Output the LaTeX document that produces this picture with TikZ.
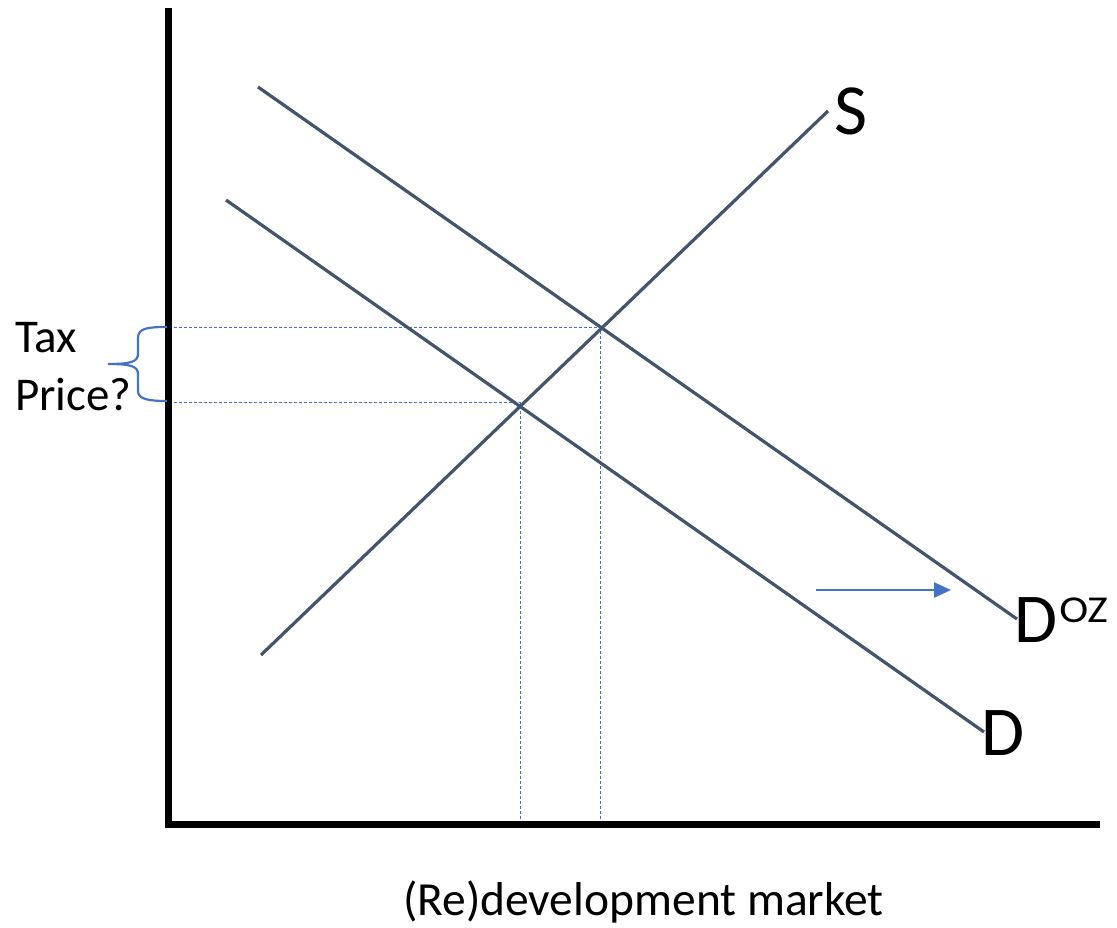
\documentclass[tikz,border=0pt]{standalone}
\usepackage{fontspec}
\setmainfont{Carlito}
\usepackage{xcolor}
\definecolor{Slate}{HTML}{44546A}
\definecolor{OfficeBlue}{HTML}{4472C4}
\usetikzlibrary{arrows.meta}

\begin{document}
\begin{tikzpicture}[x=1pt,y=-1pt,every node/.style={inner sep=0pt,text=black},
  curve/.style={Slate,line width=3.2pt},
  guide/.style={OfficeBlue,line width=0.8pt,dash pattern=on 3pt off 2pt}]
\useasboundingbox[fill=white] (0,0) rectangle (1117,927);
% intersections
\coordinate (eqOZ) at (600,327);
\coordinate (eqD) at (520,402);
\coordinate (origin) at (168.5,824);
% dashed guides
\draw[guide] (168.5,327)--(eqOZ)--(600,824);
\draw[guide] (168.5,402)--(eqD)--(520,824);
% supply and demand
\draw[curve] (261,655)--(828,111);
\draw[curve] (258,87)--(1017,619);
\draw[curve] (226,200)--(984,732);
% axes
\draw[black,line width=7pt] (168.5,8)--(origin)--(1100,824);
% shift arrow
\draw[OfficeBlue,line width=2.4pt,-{Triangle[length=17pt,width=15pt]}] (816,590)--(951,590);
% brace
\draw[OfficeBlue,line width=2.2pt] (167,327) .. controls (148,327) and (138,328) .. (138,338) -- (138,354)
  .. controls (138,362) and (130,364) .. (108,364)
  .. controls (130,364) and (138,366) .. (138,374) -- (138,391)
  .. controls (138,399) and (148,401) .. (167,401);
% labels
\node[anchor=base west,font=\fontsize{47}{56}\selectfont] (tax) at (15,352) {Tax};
\node[anchor=base west,font=\fontsize{47}{56}\selectfont] (price) at (15,410) {Price?};
\node[anchor=base west,font=\fontsize{72}{80}\selectfont] (lblS) at (834,134) {S};
\node[anchor=base west,font=\fontsize{70}{80}\selectfont] (lblDOZ) at (1014,642)
  {D\hspace{2pt}\raisebox{19.5pt}{\scalebox{1.15}[1]{\fontsize{38}{38}\selectfont OZ}}};
\node[anchor=base west,font=\fontsize{70}{80}\selectfont] (lblD) at (981,755) {D};
\node[anchor=base,font=\fontsize{47.5}{56}\selectfont] (market) at (643.5,915) {(Re)development market};
\end{tikzpicture}
\end{document}
